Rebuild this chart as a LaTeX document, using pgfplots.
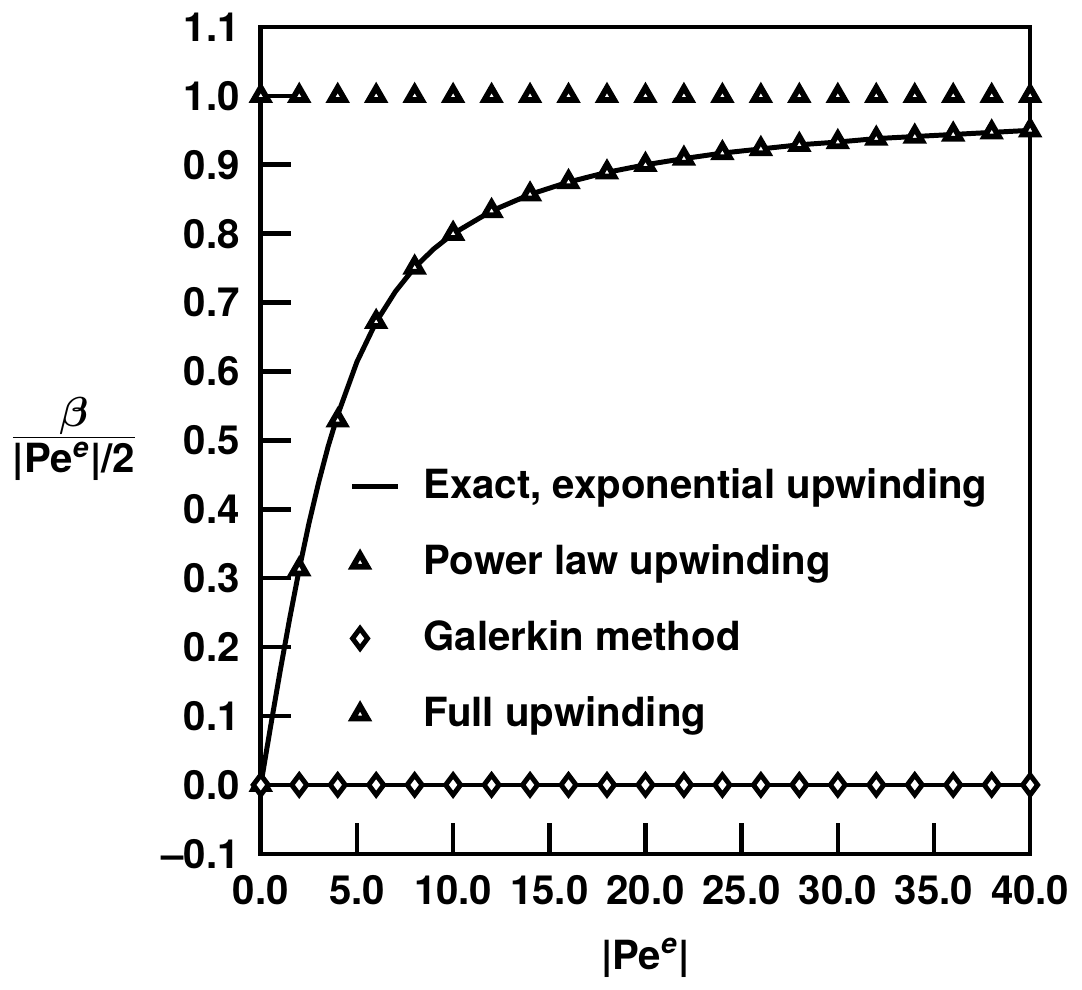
\documentclass[border=0pt]{standalone}
\usepackage{pgfplots}
\pgfplotsset{compat=1.18}
\usepackage{amsmath}
\usepackage{bm}
\usepackage{fontspec}
\setmainfont{TeX Gyre Heros}
\pgfplotsset{
  short line legend/.style={legend image code/.code={\draw[##1] (0cm,0cm) -- (0.42cm,0cm);}},
  left mark legend/.style={legend image code/.code={\draw[mark repeat=2,mark phase=2,##1] plot coordinates {(0cm,0cm) (0.07cm,0cm) (0.42cm,0cm)};}}
}

\begin{document}
\begin{tikzpicture}
\begin{axis}[scale only axis,
             width=201pt, height=216pt,
             xmin=0, xmax=40, ymin=-0.1, ymax=1.1,
             xtick={0,5,10,15,20,25,30,35,40},
             xticklabels={0.0,5.0,10.0,15.0,20.0,25.0,30.0,35.0,40.0},
             ytick={-0.1,0,0.1,0.2,0.3,0.4,0.5,0.6,0.7,0.8,0.9,1.0,1.1},
             yticklabels={\textendash0.1,0.0,0.1,0.2,0.3,0.4,0.5,0.6,0.7,0.8,0.9,1.0,1.1},
             tick align=inside,
             xtick pos=bottom, ytick pos=left,
             major tick length=8pt,
             axis line style={line width=1.2pt},
             tick style={line width=1.2pt, black},
             ticklabel style={font=\fontsize{10.5}{12}\selectfont\bfseries},
             yticklabel style={xshift=-2pt},
             xticklabel style={yshift=-2pt},
             xlabel={\bfseries |Pe\textsuperscript{\itshape e}|},
             xlabel style={font=\fontsize{10.5}{12}\selectfont, yshift=-2pt},
             ylabel={\begin{tabular}{@{}c@{}}$\bm{\beta}$\\[-1pt]\hline\rule{0pt}{9pt}\bfseries |Pe\textsuperscript{\itshape e}|/2\end{tabular}},
             ylabel style={rotate=-90, font=\fontsize{10.5}{12}\selectfont},
             legend style={at={(rel axis cs:0.10,0.485)}, anchor=north west, draw=none,
                           font=\fontsize{10.5}{12}\selectfont\bfseries,
                           row sep=6.5pt, fill=none,
                           /tikz/every odd column/.append style={column sep=4pt}},
             legend cell align=left,
             every axis plot/.append style={line width=1.3pt}]

% exact, exponential upwinding
\addplot[black, no marks, short line legend] coordinates {
    (0,0) (0.5,0.083) (1,0.164) (1.5,0.241) (2,0.313) (2.5,0.379) (3,0.438)
    (3.5,0.491) (4,0.537) (5,0.614) (6,0.672) (7,0.716) (8,0.751) (9,0.778)
    (10,0.800) (12,0.833) (14,0.857) (16,0.875) (18,0.889) (20,0.900)
    (22,0.909) (24,0.917) (26,0.923) (28,0.929) (30,0.933) (32,0.938)
    (34,0.941) (36,0.944) (38,0.947) (40,0.950)
};
\addlegendentry{Exact, exponential upwinding}

% power law upwinding
\addplot[black, only marks, mark=triangle*, mark size=2.2pt, left mark legend,
         mark options={fill=white, line width=1.5pt}] coordinates {
    (0,0) (2,0.313) (4,0.529) (6,0.672) (8,0.751) (10,0.800) (12,0.833)
    (14,0.857) (16,0.875) (18,0.889) (20,0.900) (22,0.909) (24,0.917)
    (26,0.923) (28,0.929) (30,0.933) (32,0.938) (34,0.941) (36,0.944)
    (38,0.947) (40,0.950)
};
\addlegendentry{Power law upwinding}

% galerkin
\addplot[black, forget plot, line width=1.1pt] coordinates {(0,0) (40,0)};
\addplot[black, only marks, mark=diamond*, mark size=2.6pt, left mark legend,
         mark options={fill=white, line width=1.3pt}] coordinates {
    (0,0) (2,0) (4,0) (6,0) (8,0) (10,0) (12,0) (14,0) (16,0) (18,0) (20,0)
    (22,0) (24,0) (26,0) (28,0) (30,0) (32,0) (34,0) (36,0) (38,0) (40,0)
};
\addlegendentry{Galerkin method}

% full upwinding
\addplot[black, forget plot, line width=0.8pt] coordinates {(0,1) (2,1)};
\addplot[black, only marks, mark=triangle*, mark size=2.2pt, left mark legend,
         mark options={fill=white, line width=1.5pt}] coordinates {
    (0,1) (2,1) (4,1) (6,1) (8,1) (10,1) (12,1) (14,1) (16,1) (18,1) (20,1)
    (22,1) (24,1) (26,1) (28,1) (30,1) (32,1) (34,1) (36,1) (38,1) (40,1)
};
\addlegendentry{Full upwinding}

\end{axis}
\end{tikzpicture}
\end{document}
